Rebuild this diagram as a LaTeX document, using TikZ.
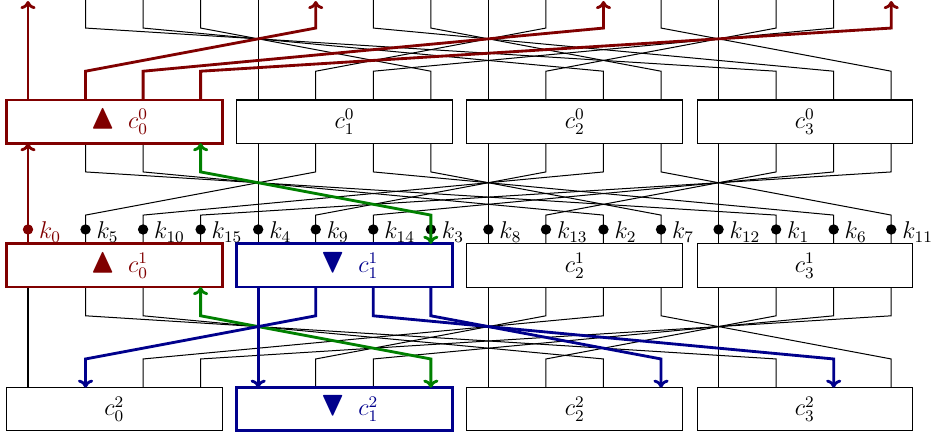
\documentclass[tikz,border=0pt]{standalone}
\usepackage{amssymb}
\usetikzlibrary{arrows.meta,calc}
\definecolor{cred}{rgb}{0.5,0,0}
\definecolor{cblue}{rgb}{0,0,0.55}
\definecolor{cgreen}{rgb}{0,0.5,0}
\tikzset{
  box/.style={draw, line width=0.5pt, minimum width=3.75cm, minimum height=0.75cm, inner sep=0pt, outer sep=0pt, font=\large},
  hbox/.style={box, line width=1.4pt},
  wire/.style={line width=0.5pt},
  hwire/.style={line width=1.4pt},
  tipend/.style={-{Computer Modern Rightarrow[length=4pt,width=7.5pt]}},
  tipboth/.style={{Computer Modern Rightarrow[length=4pt,width=7.5pt]}-{Computer Modern Rightarrow[length=4pt,width=7.5pt]}},
  kdot/.style={circle, fill, inner sep=0pt, minimum size=0.18cm},
  klab/.style={anchor=west, inner sep=1pt, font=\large}
}
\newcommand{\tri}{\hspace{5pt}{\LARGE$\blacktriangle$}\hspace{6pt}}
\newcommand{\dtri}{\hspace{5pt}{\LARGE$\blacktriangledown$}\hspace{6pt}}
\begin{document}
\begin{tikzpicture}[x=1cm,y=1cm]
\useasboundingbox (-0.4865,-5.838) rectangle (15.778,1.7376);
% ports
\foreach \p in {0,...,15}{
  \foreach \r in {0,1,2}{
    \coordinate (t\r-\p) at (\p,-2.5*\r);
    \coordinate (b\r-\p) at (\p,-2.5*\r-0.75);
  }
  \coordinate (top-\p) at (\p,1.75);
  \coordinate (topa-\p) at (\p,1.72);
}
% black wires, top gap
\foreach \p in {4,...,15}{
  \pgfmathtruncatemacro\q{mod(5*\p,16)}
  \draw[wire] (t0-\p) -- ++(0,0.5) -- ([yshift=-0.5cm]top-\q) -- (top-\q);
}
% black wires, gap 1
\foreach \p in {1,2,3,4,5,6,8,9,10,11,12,13,14,15}{
  \pgfmathtruncatemacro\q{mod(5*\p,16)}
  \draw[wire] (b0-\q) -- ++(0,-0.5) -- ([yshift=0.5cm]t1-\p) -- (t1-\p);
}
% black wires, gap 2
\foreach \p in {0,2,3,5,6,8,9,10,12,13,15}{
  \pgfmathtruncatemacro\q{mod(5*\p,16)}
  \draw[wire] (b1-\q) -- ++(0,-0.5) -- ([yshift=0.5cm]t2-\p) -- (t2-\p);
}
% boxes
\node[hbox, draw=cred, text=cred] (c0-0) at (1.5,-0.375) {\tri$c_0^0$};
\node[box] (c1-0) at (5.5,-0.375) {$c_1^0$};
\node[box] (c2-0) at (9.5,-0.375) {$c_2^0$};
\node[box] (c3-0) at (13.5,-0.375) {$c_3^0$};
\node[hbox, draw=cred, text=cred] (c0-1) at (1.5,-2.875) {\tri$c_0^1$};
\node[hbox, draw=cblue, text=cblue] (c1-1) at (5.5,-2.875) {\dtri$c_1^1$};
\node[box] (c2-1) at (9.5,-2.875) {$c_2^1$};
\node[box] (c3-1) at (13.5,-2.875) {$c_3^1$};
\node[box] (c0-2) at (1.5,-5.375) {$c_0^2$};
\node[hbox, draw=cblue, text=cblue] (c1-2) at (5.5,-5.375) {\dtri$c_1^2$};
\node[box] (c2-2) at (9.5,-5.375) {$c_2^2$};
\node[box] (c3-2) at (13.5,-5.375) {$c_3^2$};
% dots and key labels
\foreach \p in {0,...,15}{
  \pgfmathtruncatemacro\q{mod(5*\p,16)}
  \ifnum\p=0
    \node[kdot, cred] (d\p) at (\p,-2.25) {};
    \node[klab, text=cred] (k\p) at ([xshift=0.15cm,yshift=-0.05cm]d\p) {$k_{\q}$};
  \else
    \node[kdot] (d\p) at (\p,-2.25) {};
    \node[klab] (k\p) at ([xshift=0.15cm,yshift=-0.05cm]d\p) {$k_{\q}$};
  \fi
}
% red wires
\foreach \p in {0,1,2,3}{
  \pgfmathtruncatemacro\q{mod(5*\p,16)}
  \draw[hwire, cred, tipend] (t0-\p) -- ++(0,0.5) -- ([yshift=-0.47cm]topa-\q) -- (topa-\q);
}
\draw[hwire, cred, tipend] (t1-0) -- (b0-0);
% green wires
\draw[hwire, cgreen, tipboth] (b0-3) -- ++(0,-0.5) -- ([yshift=0.5cm]t1-7) -- (t1-7);
\draw[hwire, cgreen, tipboth] (b1-3) -- ++(0,-0.5) -- ([yshift=0.5cm]t2-7) -- (t2-7);
% blue wires
\foreach \p in {1,4,11,14}{
  \pgfmathtruncatemacro\q{mod(5*\p,16)}
  \draw[hwire, cblue, tipend] (b1-\q) -- ++(0,-0.5) -- ([yshift=0.5cm]t2-\p) -- (t2-\p);
}
\end{tikzpicture}
\end{document}
